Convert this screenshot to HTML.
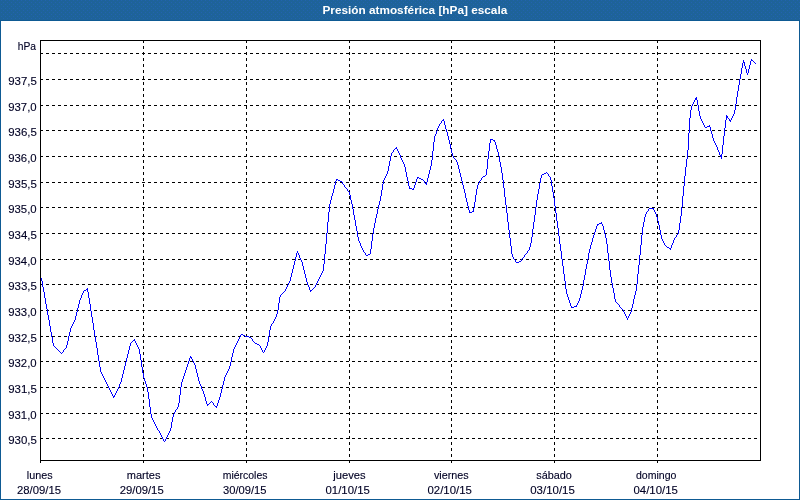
<!DOCTYPE html>
<html><head><meta charset="utf-8"><title>Presión atmosférica [hPa] escala</title>
<style>
html,body{margin:0;padding:0;background:#fff;}
body{width:800px;height:500px;overflow:hidden;position:relative;font-family:"Liberation Sans",sans-serif;}
#frame{position:absolute;left:0;top:0;width:798px;height:498px;border:1px solid #0e5a93;background:#fff;}
#hdr{position:absolute;left:0;top:0;width:800px;height:20px;border-bottom:1px solid #0e5a93;background:#1e6399;}
svg{position:absolute;left:0;top:0;}
svg text{font-family:"Liberation Sans",sans-serif;font-size:11px;fill:#000024;stroke:#000024;stroke-width:0.12px;}
svg text.ttl{font-weight:bold;fill:#fff;stroke:none;}
</style></head><body>
<div id="frame"></div>
<div id="hdr"></div>
<svg width="800" height="500" viewBox="0 0 800 500">
<defs><pattern id="dth" width="4" height="4" patternUnits="userSpaceOnUse"><rect x="1" y="0" width="1" height="1" fill="#2263b0"/><rect x="3" y="2" width="1" height="1" fill="#2263b0"/></pattern></defs>
<rect x="0" y="0" width="800" height="20" fill="url(#dth)" shape-rendering="crispEdges"/>
<g shape-rendering="crispEdges" fill="none" stroke="#000" stroke-width="1">
<line x1="40" y1="53.5" x2="760" y2="53.5" stroke-dasharray="3 3"/>
<line x1="40" y1="79.5" x2="760" y2="79.5" stroke-dasharray="3 3"/>
<line x1="40" y1="105.5" x2="760" y2="105.5" stroke-dasharray="3 3"/>
<line x1="40" y1="130.5" x2="760" y2="130.5" stroke-dasharray="3 3"/>
<line x1="40" y1="156.5" x2="760" y2="156.5" stroke-dasharray="3 3"/>
<line x1="40" y1="182.5" x2="760" y2="182.5" stroke-dasharray="3 3"/>
<line x1="40" y1="207.5" x2="760" y2="207.5" stroke-dasharray="3 3"/>
<line x1="40" y1="233.5" x2="760" y2="233.5" stroke-dasharray="3 3"/>
<line x1="40" y1="259.5" x2="760" y2="259.5" stroke-dasharray="3 3"/>
<line x1="40" y1="284.5" x2="760" y2="284.5" stroke-dasharray="3 3"/>
<line x1="40" y1="310.5" x2="760" y2="310.5" stroke-dasharray="3 3"/>
<line x1="40" y1="336.5" x2="760" y2="336.5" stroke-dasharray="3 3"/>
<line x1="40" y1="361.5" x2="760" y2="361.5" stroke-dasharray="3 3"/>
<line x1="40" y1="387.5" x2="760" y2="387.5" stroke-dasharray="3 3"/>
<line x1="40" y1="413.5" x2="760" y2="413.5" stroke-dasharray="3 3"/>
<line x1="40" y1="438.5" x2="760" y2="438.5" stroke-dasharray="3 3"/>
<line x1="143.5" y1="40" x2="143.5" y2="463" stroke-dasharray="3 3"/>
<line x1="246.5" y1="40" x2="246.5" y2="463" stroke-dasharray="3 3"/>
<line x1="349.5" y1="40" x2="349.5" y2="463" stroke-dasharray="3 3"/>
<line x1="451.5" y1="40" x2="451.5" y2="463" stroke-dasharray="3 3"/>
<line x1="554.5" y1="40" x2="554.5" y2="463" stroke-dasharray="3 3"/>
<line x1="657.5" y1="40" x2="657.5" y2="463" stroke-dasharray="3 3"/>
<rect x="40.5" y="40.5" width="720" height="420"/>
<line x1="40.5" y1="460" x2="40.5" y2="463"/>
</g>
<path shape-rendering="crispEdges" fill="none" stroke="#0000ff" stroke-width="1" d="M41.5 278v3M42.5 281v6M43.5 287v5M44.5 292v6M45.5 298v6M46.5 304v5M47.5 309v6M48.5 315v5M49.5 320v6M50.5 326v6M51.5 332v5M52.5 337v6M53.5 343v3M54.5 346v1M55.5 347v1M56.5 348v1M57.5 349v1M58.5 350v1M59.5 351v1M60.5 352v1M61.5 353v1M62.5 352v1M63.5 350v2M64.5 349v1M65.5 348v1M66.5 345v3M67.5 341v4M68.5 336v5M69.5 332v4M70.5 328v4M71.5 326v2M72.5 324v2M73.5 322v2M74.5 320v2M75.5 316v4M76.5 312v4M77.5 308v4M78.5 304v4M79.5 300v4M80.5 298v2M81.5 295v3M82.5 293v2M83.5 291v2M84.5 290v1M85.5 290v1M86.5 289v1M87.5 288v4M88.5 292v6M89.5 298v6M90.5 304v7M91.5 311v6M92.5 317v6M93.5 323v7M94.5 330v6M95.5 336v6M96.5 342v6M97.5 348v7M98.5 355v6M99.5 361v6M100.5 367v5M101.5 372v2M102.5 374v2M103.5 376v2M104.5 378v2M105.5 380v2M106.5 382v2M107.5 384v2M108.5 386v2M109.5 388v2M110.5 390v2M111.5 392v2M112.5 394v2M113.5 396v2M114.5 395v2M115.5 393v2M116.5 391v2M117.5 389v2M118.5 387v2M119.5 384v3M120.5 382v2M121.5 378v4M122.5 374v4M123.5 370v4M124.5 366v4M125.5 362v4M126.5 358v4M127.5 354v4M128.5 350v4M129.5 346v4M130.5 343v3M131.5 342v1M132.5 341v1M133.5 340v1M134.5 339v2M135.5 341v2M136.5 343v2M137.5 345v2M138.5 347v2M139.5 349v5M140.5 354v6M141.5 360v7M142.5 367v6M143.5 373v5M144.5 378v3M145.5 381v3M146.5 384v3M147.5 387v5M148.5 392v7M149.5 399v8M150.5 407v7M151.5 414v4M152.5 418v2M153.5 420v2M154.5 422v2M155.5 424v2M156.5 426v2M157.5 428v2M158.5 430v1M159.5 431v2M160.5 433v2M161.5 435v2M162.5 437v2M163.5 439v2M164.5 441v1M165.5 439v2M166.5 437v2M167.5 435v2M168.5 433v2M169.5 431v2M170.5 428v3M171.5 422v6M172.5 417v5M173.5 414v3M174.5 412v2M175.5 410v2M176.5 409v1M177.5 407v2M178.5 403v4M179.5 395v8M180.5 387v8M181.5 382v5M182.5 379v3M183.5 376v3M184.5 373v3M185.5 370v3M186.5 367v3M187.5 364v3M188.5 361v3M189.5 358v3M190.5 356v2M191.5 357v2M192.5 359v2M193.5 361v2M194.5 363v2M195.5 365v4M196.5 369v4M197.5 373v4M198.5 377v4M199.5 381v3M200.5 384v2M201.5 386v3M202.5 389v2M203.5 391v3M204.5 394v3M205.5 397v4M206.5 401v3M207.5 404v2M208.5 404v1M209.5 403v1M210.5 402v1M211.5 401v1M212.5 402v1M213.5 403v2M214.5 405v1M215.5 406v1M216.5 406v2M217.5 403v3M218.5 400v3M219.5 397v3M220.5 393v4M221.5 389v4M222.5 385v4M223.5 381v4M224.5 377v4M225.5 375v2M226.5 373v2M227.5 371v2M228.5 369v2M229.5 366v3M230.5 362v4M231.5 357v5M232.5 353v4M233.5 349v4M234.5 347v2M235.5 345v2M236.5 343v2M237.5 341v2M238.5 339v2M239.5 337v2M240.5 335v2M241.5 334v1M242.5 334v1M243.5 335v1M244.5 335v1M245.5 336v1M246.5 336v1M247.5 336v1M248.5 336v1M249.5 337v1M250.5 337v1M251.5 338v1M252.5 339v2M253.5 341v1M254.5 342v1M255.5 343v1M256.5 343v1M257.5 344v1M258.5 344v1M259.5 345v1M260.5 346v2M261.5 348v2M262.5 350v2M263.5 352v1M264.5 350v2M265.5 348v2M266.5 346v2M267.5 342v4M268.5 336v6M269.5 330v6M270.5 326v4M271.5 324v2M272.5 323v1M273.5 321v2M274.5 319v2M275.5 317v2M276.5 314v3M277.5 310v4M278.5 303v7M279.5 297v6M280.5 295v2M281.5 294v1M282.5 293v1M283.5 292v1M284.5 291v1M285.5 289v2M286.5 287v2M287.5 285v2M288.5 283v2M289.5 281v2M290.5 277v4M291.5 273v4M292.5 269v4M293.5 265v4M294.5 261v4M295.5 257v4M296.5 253v4M297.5 251v2M298.5 253v2M299.5 255v3M300.5 258v2M301.5 260v2M302.5 262v4M303.5 266v4M304.5 270v4M305.5 274v4M306.5 278v4M307.5 282v3M308.5 285v2M309.5 287v3M310.5 290v2M311.5 290v1M312.5 289v1M313.5 288v1M314.5 287v1M315.5 285v2M316.5 283v2M317.5 281v2M318.5 279v2M319.5 277v2M320.5 275v2M321.5 273v2M322.5 271v2M323.5 264v7M324.5 254v10M325.5 244v10M326.5 233v11M327.5 222v11M328.5 212v10M329.5 204v8M330.5 200v4M331.5 196v4M332.5 193v3M333.5 189v4M334.5 185v4M335.5 181v4M336.5 179v2M337.5 179v1M338.5 180v1M339.5 180v1M340.5 181v1M341.5 181v1M342.5 182v2M343.5 184v1M344.5 185v2M345.5 187v1M346.5 188v1M347.5 189v2M348.5 191v1M349.5 192v3M350.5 195v5M351.5 200v4M352.5 204v5M353.5 209v6M354.5 215v5M355.5 220v6M356.5 226v5M357.5 231v6M358.5 237v4M359.5 241v2M360.5 243v3M361.5 246v2M362.5 248v2M363.5 250v2M364.5 252v1M365.5 253v2M366.5 255v1M367.5 255v1M368.5 254v1M369.5 254v1M370.5 249v5M371.5 241v8M372.5 234v7M373.5 228v6M374.5 223v5M375.5 218v5M376.5 214v4M377.5 209v5M378.5 205v4M379.5 201v4M380.5 196v5M381.5 190v6M382.5 184v6M383.5 180v4M384.5 178v2M385.5 176v2M386.5 174v2M387.5 171v3M388.5 166v5M389.5 161v5M390.5 156v5M391.5 153v3M392.5 152v1M393.5 150v2M394.5 149v1M395.5 148v1M396.5 147v2M397.5 149v2M398.5 151v2M399.5 153v2M400.5 155v3M401.5 158v2M402.5 160v2M403.5 162v2M404.5 164v3M405.5 167v5M406.5 172v5M407.5 177v4M408.5 181v5M409.5 186v3M410.5 188v1M411.5 188v1M412.5 189v1M413.5 188v2M414.5 185v3M415.5 182v3M416.5 179v3M417.5 177v2M418.5 177v1M419.5 178v1M420.5 178v1M421.5 179v1M422.5 179v1M423.5 180v1M424.5 181v2M425.5 183v1M426.5 182v3M427.5 178v4M428.5 174v4M429.5 170v4M430.5 166v4M431.5 160v6M432.5 151v9M433.5 142v9M434.5 136v6M435.5 134v2M436.5 131v3M437.5 128v3M438.5 126v2M439.5 124v2M440.5 123v1M441.5 121v2M442.5 120v1M443.5 119v2M444.5 121v4M445.5 125v4M446.5 129v3M447.5 132v4M448.5 136v4M449.5 140v4M450.5 144v5M451.5 149v4M452.5 153v3M453.5 156v2M454.5 158v1M455.5 159v1M456.5 160v2M457.5 162v3M458.5 165v4M459.5 169v4M460.5 173v4M461.5 177v4M462.5 181v4M463.5 185v4M464.5 189v4M465.5 193v5M466.5 198v4M467.5 202v4M468.5 206v4M469.5 210v3M470.5 212v1M471.5 212v1M472.5 211v1M473.5 208v4M474.5 202v6M475.5 195v7M476.5 189v6M477.5 185v4M478.5 183v2M479.5 181v2M480.5 180v1M481.5 178v2M482.5 177v1M483.5 176v1M484.5 176v1M485.5 175v1M486.5 169v6M487.5 159v10M488.5 151v8M489.5 143v8M490.5 139v4M491.5 139v1M492.5 139v1M493.5 140v1M494.5 140v2M495.5 142v3M496.5 145v4M497.5 149v3M498.5 152v4M499.5 156v6M500.5 162v5M501.5 167v6M502.5 173v7M503.5 180v8M504.5 188v9M505.5 197v8M506.5 205v8M507.5 213v9M508.5 222v8M509.5 230v8M510.5 238v8M511.5 246v8M512.5 254v3M513.5 257v2M514.5 259v1M515.5 260v2M516.5 262v1M517.5 262v1M518.5 262v1M519.5 261v1M520.5 261v1M521.5 259v2M522.5 258v1M523.5 257v1M524.5 255v2M525.5 254v1M526.5 253v1M527.5 251v2M528.5 250v1M529.5 247v3M530.5 243v4M531.5 237v6M532.5 229v8M533.5 222v7M534.5 215v7M535.5 207v8M536.5 200v7M537.5 194v6M538.5 189v5M539.5 183v6M540.5 178v5M541.5 175v3M542.5 174v1M543.5 174v1M544.5 173v1M545.5 173v1M546.5 172v1M547.5 173v1M548.5 174v2M549.5 176v1M550.5 177v3M551.5 180v6M552.5 186v6M553.5 192v6M554.5 198v8M555.5 206v7M556.5 213v8M557.5 221v7M558.5 228v8M559.5 236v8M560.5 244v7M561.5 251v8M562.5 259v7M563.5 266v8M564.5 274v7M565.5 281v8M566.5 289v5M567.5 294v3M568.5 297v3M569.5 300v3M570.5 303v3M571.5 306v2M572.5 307v1M573.5 307v1M574.5 306v1M575.5 306v1M576.5 305v2M577.5 303v2M578.5 301v2M579.5 298v3M580.5 294v4M581.5 290v4M582.5 286v4M583.5 280v6M584.5 275v5M585.5 269v6M586.5 264v5M587.5 259v5M588.5 253v6M589.5 249v4M590.5 245v4M591.5 242v3M592.5 238v4M593.5 235v3M594.5 232v3M595.5 229v3M596.5 226v3M597.5 224v2M598.5 224v1M599.5 223v1M600.5 223v1M601.5 222v2M602.5 224v2M603.5 226v4M604.5 230v4M605.5 234v4M606.5 238v6M607.5 244v9M608.5 253v8M609.5 261v9M610.5 270v7M611.5 277v6M612.5 283v5M613.5 288v5M614.5 293v6M615.5 299v3M616.5 302v1M617.5 303v1M618.5 304v1M619.5 305v2M620.5 307v1M621.5 308v1M622.5 309v1M623.5 310v2M624.5 312v2M625.5 314v2M626.5 316v2M627.5 318v2M628.5 316v2M629.5 314v2M630.5 312v2M631.5 308v4M632.5 304v4M633.5 299v5M634.5 295v4M635.5 291v4M636.5 284v7M637.5 274v10M638.5 265v9M639.5 255v10M640.5 245v10M641.5 235v10M642.5 227v8M643.5 222v5M644.5 217v5M645.5 214v3M646.5 212v2M647.5 211v1M648.5 209v2M649.5 208v1M650.5 208v1M651.5 208v1M652.5 208v1M653.5 208v2M654.5 210v2M655.5 212v2M656.5 214v3M657.5 217v4M658.5 221v4M659.5 225v5M660.5 230v5M661.5 235v4M662.5 239v2M663.5 241v2M664.5 243v2M665.5 245v1M666.5 246v1M667.5 247v1M668.5 247v1M669.5 248v1M670.5 248v2M671.5 245v3M672.5 243v2M673.5 240v3M674.5 238v2M675.5 237v1M676.5 235v2M677.5 234v1M678.5 230v4M679.5 223v7M680.5 216v7M681.5 207v9M682.5 196v11M683.5 186v10M684.5 176v10M685.5 167v9M686.5 159v8M687.5 150v9M688.5 133v17M689.5 118v15M690.5 110v8M691.5 106v4M692.5 104v2M693.5 102v2M694.5 100v2M695.5 98v2M696.5 97v3M697.5 100v5M698.5 105v6M699.5 111v5M700.5 116v3M701.5 119v2M702.5 121v2M703.5 123v2M704.5 125v2M705.5 127v1M706.5 127v1M707.5 126v1M708.5 126v1M709.5 125v2M710.5 127v4M711.5 131v3M712.5 134v4M713.5 138v3M714.5 141v2M715.5 143v2M716.5 145v2M717.5 147v3M718.5 150v2M719.5 152v3M720.5 155v2M721.5 154v5M722.5 145v9M723.5 136v9M724.5 128v8M725.5 120v8M726.5 115v5M727.5 116v2M728.5 118v1M729.5 119v2M730.5 120v2M731.5 118v2M732.5 116v2M733.5 114v2M734.5 110v4M735.5 104v6M736.5 97v7M737.5 91v6M738.5 85v6M739.5 79v6M740.5 74v5M741.5 68v6M742.5 63v5M743.5 60v3M744.5 62v4M745.5 66v3M746.5 69v4M747.5 73v2M748.5 69v4M749.5 65v4M750.5 61v4M751.5 59v2M752.5 60v1M753.5 61v1M754.5 62v1M755.5 63v1"/>
<text id="title" x="322.45" y="14" textLength="184.80" lengthAdjust="spacingAndGlyphs" class="ttl">Presión atmosférica [hPa] escala</text>
<text id="hpa" x="17.79" y="50" textLength="18.32" lengthAdjust="spacingAndGlyphs">hPa</text>
<text id="y0" x="8.23" y="85" textLength="28.66" lengthAdjust="spacingAndGlyphs">937,5</text>
<text id="y1" x="8.24" y="111" textLength="28.40" lengthAdjust="spacingAndGlyphs">937,0</text>
<text id="y2" x="8.23" y="136" textLength="28.66" lengthAdjust="spacingAndGlyphs">936,5</text>
<text id="y3" x="8.24" y="162" textLength="28.40" lengthAdjust="spacingAndGlyphs">936,0</text>
<text id="y4" x="8.23" y="188" textLength="28.66" lengthAdjust="spacingAndGlyphs">935,5</text>
<text id="y5" x="8.24" y="213" textLength="28.40" lengthAdjust="spacingAndGlyphs">935,0</text>
<text id="y6" x="8.23" y="239" textLength="28.66" lengthAdjust="spacingAndGlyphs">934,5</text>
<text id="y7" x="8.24" y="265" textLength="28.40" lengthAdjust="spacingAndGlyphs">934,0</text>
<text id="y8" x="8.23" y="290" textLength="28.66" lengthAdjust="spacingAndGlyphs">933,5</text>
<text id="y9" x="8.24" y="316" textLength="28.40" lengthAdjust="spacingAndGlyphs">933,0</text>
<text id="y10" x="8.23" y="342" textLength="28.66" lengthAdjust="spacingAndGlyphs">932,5</text>
<text id="y11" x="8.24" y="367" textLength="28.40" lengthAdjust="spacingAndGlyphs">932,0</text>
<text id="y12" x="8.23" y="393" textLength="28.66" lengthAdjust="spacingAndGlyphs">931,5</text>
<text id="y13" x="8.24" y="419" textLength="28.40" lengthAdjust="spacingAndGlyphs">931,0</text>
<text id="y14" x="8.23" y="444" textLength="28.66" lengthAdjust="spacingAndGlyphs">930,5</text>
<text id="d0" x="26.76" y="479" textLength="25.78" lengthAdjust="spacingAndGlyphs">lunes</text>
<text id="dt0" x="16.99" y="494" textLength="44.10" lengthAdjust="spacingAndGlyphs">28/09/15</text>
<text id="d1" x="126.75" y="479" textLength="33.73" lengthAdjust="spacingAndGlyphs">martes</text>
<text id="dt1" x="119.74" y="494" textLength="43.94" lengthAdjust="spacingAndGlyphs">29/09/15</text>
<text id="d2" x="222.78" y="479" textLength="44.69" lengthAdjust="spacingAndGlyphs">miércoles</text>
<text id="dt2" x="223.00" y="494" textLength="43.44" lengthAdjust="spacingAndGlyphs">30/09/15</text>
<text id="d3" x="333.26" y="479" textLength="32.29" lengthAdjust="spacingAndGlyphs">jueves</text>
<text id="dt3" x="325.50" y="494" textLength="44.29" lengthAdjust="spacingAndGlyphs">01/10/15</text>
<text id="d4" x="433.99" y="479" textLength="34.72" lengthAdjust="spacingAndGlyphs">viernes</text>
<text id="dt4" x="427.49" y="494" textLength="44.35" lengthAdjust="spacingAndGlyphs">02/10/15</text>
<text id="d5" x="536.25" y="479" textLength="35.59" lengthAdjust="spacingAndGlyphs">sábado</text>
<text id="dt5" x="530.24" y="494" textLength="44.59" lengthAdjust="spacingAndGlyphs">03/10/15</text>
<text id="d6" x="636.01" y="479" textLength="40.43" lengthAdjust="spacingAndGlyphs">domingo</text>
<text id="dt6" x="633.49" y="494" textLength="44.35" lengthAdjust="spacingAndGlyphs">04/10/15</text>
</svg>
</body></html>
